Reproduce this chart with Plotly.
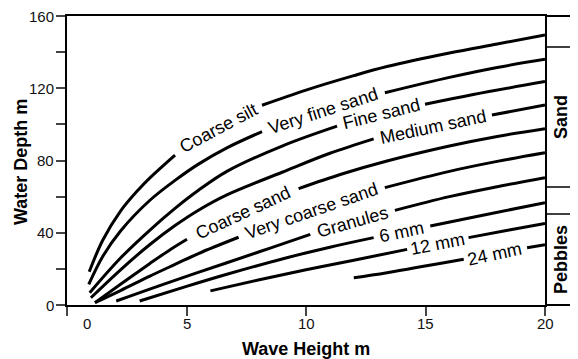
import plotly.graph_objects as go

# ---- data (Wave Height m vs Water Depth m) ----
curve_names = ["Coarse silt", "Very fine sand", "Fine sand", "Medium sand", "Coarse sand",
               "Very coarse sand", "Granules", "6 mm", "12 mm", "24 mm"]

coarse_silt_x = [0.93, 1.5, 2.24, 3.0, 3.47, 4.52, None, 8.16, 10, 12, 13.39, 16, 18, 20]
coarse_silt_y = [18.4, 36, 52, 64, 70.4, 83, None, 110.6, 119, 127, 132, 139.5, 144.5, 149.5]

very_fine_sand_x = [0.91, 1.5, 2.24, 3.47, 4.52, 5.5, 6.69, 8.16, None, 13.3, 16, 18, 20]
very_fine_sand_y = [11.4, 27, 41, 58, 69, 78, 87, 96, None, 117.5, 126, 131.5, 136]

fine_sand_x = [0.95, 2.24, 3.47, 4.52, 5.5, 6.69, 9, 11.3, None, 14.98, 17, 20]
fine_sand_y = [6.8, 26, 41.5, 53.5, 63.5, 74, 88, 99, None, 111.1, 116.5, 123.7]

medium_sand_x = [1.0, 2.24, 3.47, 4.52, 5.5, 6.69, 9, 11, 12.83, None, 17.78, 20]
medium_sand_y = [4.0, 19.5, 33.5, 44, 52.5, 61, 73.5, 84, 92, None, 105.2, 110.7]

coarse_sand_x = [1.17, 2.24, 3.47, 4.3, 5.02, None, 9.69, 11.5, 13.39, 16, 18, 20]
coarse_sand_y = [1.3, 11.5, 23, 30.5, 36.4, None, 64.4, 72.5, 79.7, 88, 93.3, 97.6]

very_coarse_sand_x = [1.17, 2.24, 3.47, 4.52, 5.5, 7.18, None, 13.3, 16, 18, 20]
very_coarse_sand_y = [1.3, 8, 16, 22.5, 28.5, 37.5, None, 65, 74, 79.5, 84.3]

granules_x = [2.06, 4, 6.69, 8.5, 10.18, None, 13.72, 16, 18, 20]
granules_y = [2.2, 11.3, 23.4, 31.5, 39.1, None, 52.4, 60, 65.5, 70.5]

mm6_x = [3.04, 5, 6.69, 9, 11, 12.83, None, 15.2, 17.5, 20]
mm6_y = [2.2, 10.3, 17, 25.5, 32, 37.3, None, 43.7, 50, 56.6]

mm12_x = [6.0, 8, 10, 12, 14.23, None, 16.8, 18.5, 20]
mm12_y = [7.8, 13.8, 19.5, 24.8, 30.8, None, 37.3, 41.5, 45.2]

mm24_x = [12.0, 13.39, 16.6, None, 19.25, 20]
mm24_y = [15.1, 17.9, 25.3, None, 31.7, 33.4]

curves_x = [coarse_silt_x, very_fine_sand_x, fine_sand_x, medium_sand_x, coarse_sand_x,
            very_coarse_sand_x, granules_x, mm6_x, mm12_x, mm24_x]
curves_y = [coarse_silt_y, very_fine_sand_y, fine_sand_y, medium_sand_y, coarse_sand_y,
            very_coarse_sand_y, granules_y, mm6_y, mm12_y, mm24_y]

# label anchor (data coords) and rotation
label_x = [6.35, 10.7, 13.14, 15.3, 7.35, 10.24, 11.95, 14.0, 15.5, 17.9]
label_y = [98.0, 107.5, 105.5, 98.8, 51.0, 52.0, 46.0, 40.6, 34.0, 28.5]
label_angle = [-28, -18, -14, -12, -25, -19, -16, -12, -11, -12]

x_tick_vals = [0, 5, 10, 15, 20]
x_tick_text = ["0", "5", "10", "15", "20"]
y_tick_vals = [0, 20, 40, 60, 80, 100, 120, 140, 160]
y_tick_text = ["0", "", "40", "", "80", "", "120", "", "160"]

band_names = ["Sand", "Pebbles"]

FONT = "Liberation Sans, Arial, sans-serif"

# page has an 8px body margin; work in window pixels and convert
OFF = 8
WIN_W, WIN_H = 578, 359
W, H = WIN_W - OFF, WIN_H - OFF
PL, PR, PT, PB = 67, 545, 16, 305          # plot area in window pixels
L, T = PL - OFF, PT - OFF
R, B = (WIN_W - PR), (WIN_H - PB)
pw, ph = W - L - R, H - T - B


def py2paper(py):
    return (PB - py) / ph


def px2paper(px):
    return (px - PL) / pw


fig = go.Figure()
for name, xs, ys in zip(curve_names, curves_x, curves_y):
    fig.add_trace(go.Scatter(x=xs, y=ys, mode="lines", name=name,
                             line=dict(color="black", width=3, shape="spline", smoothing=1.0),
                             connectgaps=False, showlegend=False, hoverinfo="skip"))

annotations = []
for name, lx, ly, ang in zip(curve_names, label_x, label_y, label_angle):
    annotations.append(dict(x=lx, y=ly, xref="x", yref="y", text=name, showarrow=False,
                            textangle=ang, font=dict(family=FONT, size=18, color="black"),
                            xanchor="center", yanchor="middle"))

# x tick labels drawn as text (the "0" sits right of its tick in the reference)
x_label_pos = [0.83, 5, 10, 15, 20]
for pos, txt in zip(x_label_pos, x_tick_text):
    annotations.append(dict(x=pos, y=py2paper(324), xref="x", yref="paper", text=txt,
                            showarrow=False, font=dict(family=FONT, size=15, color="#111"),
                            xanchor="center", yanchor="middle"))

# y tick labels drawn as text
for val, txt in zip(y_tick_vals, y_tick_text):
    if txt:
        annotations.append(dict(x=px2paper(56), y=val, xref="paper", yref="y", text=txt,
                                showarrow=False, font=dict(family=FONT, size=15, color="#111"),
                                xanchor="right", yanchor="middle"))

# axis titles
annotations.append(dict(x=px2paper(306), y=py2paper(349), xref="paper", yref="paper",
                        text="<b>Wave Height m</b>", showarrow=False,
                        font=dict(family=FONT, size=18, color="black"),
                        xanchor="center", yanchor="middle"))
annotations.append(dict(x=px2paper(21), y=py2paper(162), xref="paper", yref="paper",
                        text="<b>Water Depth m</b>", showarrow=False, textangle=-90,
                        font=dict(family=FONT, size=18, color="black"),
                        xanchor="center", yanchor="middle"))

# right-hand class boxes
for name, pyc in zip(band_names, [117, 260]):
    annotations.append(dict(x=px2paper(561), y=py2paper(pyc), xref="paper", yref="paper",
                            text="<b>%s</b>" % name, showarrow=False, textangle=-90,
                            font=dict(family=FONT, size=18, color="black"),
                            xanchor="center", yanchor="middle"))

x_right = px2paper(WIN_W + 2)
shapes = [
    dict(type="line", xref="paper", yref="paper", x0=1, x1=x_right, y0=1, y1=1,
         line=dict(color="black", width=2)),
    dict(type="line", xref="paper", yref="paper", x0=1, x1=x_right, y0=0, y1=0,
         line=dict(color="black", width=2)),
]
for py in [47, 187, 214]:
    yy = py2paper(py)
    shapes.append(dict(type="line", xref="paper", yref="paper", x0=1, x1=x_right, y0=yy, y1=yy,
                       line=dict(color="black", width=1.5)))

fig.update_layout(
    width=W, height=H,
    margin=dict(l=L, r=R, t=T, b=B, pad=0),
    paper_bgcolor="white", plot_bgcolor="white",
    font=dict(family=FONT, size=15, color="#111"),
    annotations=annotations, shapes=shapes,
    xaxis=dict(range=[0, 20], tickvals=x_tick_vals, ticktext=["", "", "", "", ""],
               ticks="outside", ticklen=9, tickwidth=1.5, tickcolor="#444",
               showline=True, linecolor="black", linewidth=2, mirror=True,
               showgrid=False, zeroline=False, automargin=False),
    yaxis=dict(range=[0, 160], tickvals=y_tick_vals, ticktext=[""] * len(y_tick_vals),
               ticks="outside", ticklen=9, tickwidth=1.5, tickcolor="#444",
               showline=True, linecolor="black", linewidth=2, mirror=True,
               showgrid=False, zeroline=False, automargin=False),
)

fig.write_html("out.html")
